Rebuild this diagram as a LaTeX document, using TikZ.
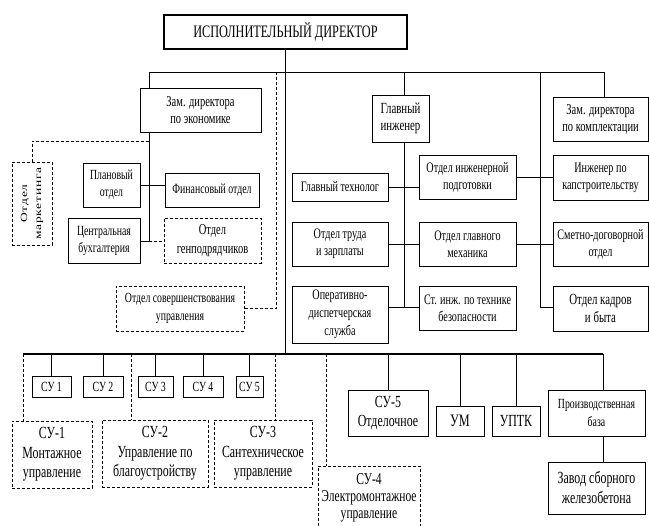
\documentclass[tikz,border=0pt]{standalone}
\usepackage{fontspec}
\usepackage{graphicx}
\setmainfont{Liberation Serif}[FakeStretch=0.7]
\newfontfamily\mkfont{Liberation Serif}[LetterSpace=6]
\newcommand\bx[7]{\node[#1, minimum width={(#5-#3)*1pt}, minimum height={(#6-#4)*1pt}] (#2) at ({(#3+#5)/2},{(#4+#6)/2}) {#7};}
\tikzset{
  box/.style={draw, line width=0.7pt, align=center, inner sep=0pt},
  dbox/.style={box, dash pattern=on 3pt off 2pt},
  fs/.style 2 args={font=\fontsize{#1}{#2}\selectfont},
  ln/.style={line width=0.7pt},
  thk/.style={line width=1.2pt},
  dl/.style={line width=0.7pt, dash pattern=on 3pt off 2pt},
}
\begin{document}
\begin{tikzpicture}[x=1pt,y=-1pt]
\path[use as bounding box] (0,0) rectangle (649,526);
% top
\bx{box, line width=1.6pt, fs={17.5}{20}}{dir}{164}{15}{407}{49}{ИСПОЛНИТЕЛЬНЫЙ ДИРЕКТОР}
\bx{box, fs={15}{17}}{econ}{140}{88}{261}{132}{Зам. директора\\по экономике}
\bx{box, fs={15.5}{17}}{gi}{372}{95}{429}{142}{Главный\\инженер}
\bx{box, fs={15}{17}}{komp}{553}{97}{648}{141}{Зам. директора\\по комплектации}
% left
\bx{dbox}{mark}{12}{162}{52}{245}{\rotatebox{90}{\scalebox{1}[0.7]{\parbox{80pt}{\centering\mkfont\fontsize{13.5}{20}\selectfont Отдел\\маркетинга}}}}
\bx{box, fs={14}{17}}{plan}{83}{163}{140}{207}{Плановый\\отдел}
\bx{box, fs={14}{17}}{fin}{165}{173}{259}{207}{Финансовый отдел}
\bx{box, fs={14}{17}}{buh}{68}{218}{140}{263}{Центральная\\бухгалтерия}
\bx{dbox, fs={15}{19}}{gen}{164}{218}{261}{263}{Отдел\\генподрядчиков}
\bx{dbox, fs={14}{18}}{sov}{116}{286}{244}{331}{Отдел совершенствования\\управления}
% middle
\bx{box, fs={14.5}{17}}{tech}{292}{173}{388}{201}{Главный технолог}
\bx{box, fs={14.5}{17}}{oip}{419}{155}{516}{199}{Отдел инженерной\\подготовки}
\bx{box, fs={14.5}{17}}{kap}{553}{155}{648}{200}{Инженер по\\капстроительству}
\bx{box, fs={14.5}{17}}{trud}{292}{222}{388}{266}{Отдел труда\\и зарплаты}
\bx{box, fs={14.5}{17}}{mech}{419}{222}{516}{266}{Отдел главного\\механика}
\bx{box, fs={14.5}{17}}{smet}{553}{222}{648}{266}{Сметно-договорной\\отдел}
\bx{box, fs={14.5}{18}}{oper}{292}{286}{388}{343}{Оперативно-\\диспетчерская\\служба}
\bx{box, fs={14.5}{17}}{st}{419}{286}{516}{330}{Ст. инж. по технике\\безопасности}
\bx{box, fs={15.5}{18}}{kadr}{553}{286}{648}{331}{Отдел кадров\\и быта}
% bottom
\bx{box, fs={14}{16}}{s1}{32}{376}{71}{397}{СУ 1}
\bx{box, fs={14}{16}}{s2}{83}{376}{123}{397}{СУ 2}
\bx{box, fs={14}{16}}{s3}{138}{376}{173}{397}{СУ 3}
\bx{box, fs={14}{16}}{s4}{183}{376}{223}{397}{СУ 4}
\bx{box, fs={14}{16}}{s5}{236}{376}{263}{397}{СУ 5}
\bx{dbox, fs={17}{19.5}}{su1}{12}{421}{92}{488}{СУ-1\\Монтажное\\управление}
\bx{dbox, fs={17}{19.5}}{su2}{102}{420}{208}{487}{СУ-2\\Управление по\\благоустройству}
\bx{dbox, fs={17}{19.5}}{su3}{214}{420}{312}{487}{СУ-3\\Сантехническое\\управление}
\bx{dbox, fs={16.5}{17}}{su4}{318}{466}{420}{530}{СУ-4\\Электромонтажное\\управление}
\bx{box, fs={17}{19}}{su5o}{348}{390}{428}{436}{СУ-5\\Отделочное}
\bx{box, fs={17.5}{19}}{um}{436}{406}{484}{436}{УМ}
\bx{box, fs={17}{19}}{uptk}{492}{406}{540}{436}{УПТК}
\bx{box, fs={14}{18}}{baza}{548}{390}{645}{436}{Производственная\\база}
\bx{box, fs={17}{20}}{zavod}{548}{462}{645}{514}{Завод сборного\\железобетона}
% coordinates
\coordinate (tl) at (149,72);
\coordinate (tr) at (604,72);
\coordinate (gt) at (404,72);
\coordinate (gb) at (404,307);
\coordinate (rt) at (540,72);
\coordinate (rb) at (540,307);
\coordinate (mt) at (276,72);
\coordinate (eb) at (149,241);
\coordinate (em) at (149,141);
\coordinate (bl) at (23,354);
\coordinate (br) at (603,354);
\coordinate (b2) at (131,354);
\coordinate (b3) at (275,354);
\coordinate (b4) at (326,354);
% top connectors
\draw[ln] (econ.north -| tl) -- (tl) -- (tr) -- (komp.north -| tr);
\draw[thk] (dir.south) -- (dir.south |- bl);
\draw[ln] (gt) -- (gi.north -| gt);
\draw[ln] (gi.south -| gt) -- (gb);
\draw[ln] (rt) -- (rb) -- (kadr.west |- rb);
\draw[dl] (mt) |- (sov.east);
\draw[ln] (econ.south -| eb) -- (eb) -- (buh.east |- eb);
\draw[dl] (eb) -- (gen.west |- eb);
\draw[dl] (em) -| (mark.north);
\draw[ln] (plan.east) -- (plan.east -| fin.west);
\draw[ln] (tech.east) -- (tech.east -| oip.west);
\draw[ln] (trud.east) -- (mech.west);
\draw[ln] (oper.east |- gb) -- (st.west |- gb);
\draw[ln] (oip.east) -- (oip.east -| kap.west);
\draw[ln] (mech.east) -- (smet.west);
% bottom connectors
\draw[thk] (bl) -- (br);
\draw[ln] (br) -- (baza.north -| br);
\draw[ln] (baza.south -| br) -- (zavod.north -| br);
\draw[dl] (bl) -- (su1.north -| bl);
\foreach \n in {s1,s2,s3,s4,s5,su5o,um,uptk} \draw[ln] (\n.north) -- (\n.north |- bl);
\draw[dl] (b2) -- (su2.north -| b2);
\draw[dl] (b3) -- (su3.north -| b3);
\draw[dl] (b4) -- (su4.north -| b4);
\end{tikzpicture}
\end{document}
